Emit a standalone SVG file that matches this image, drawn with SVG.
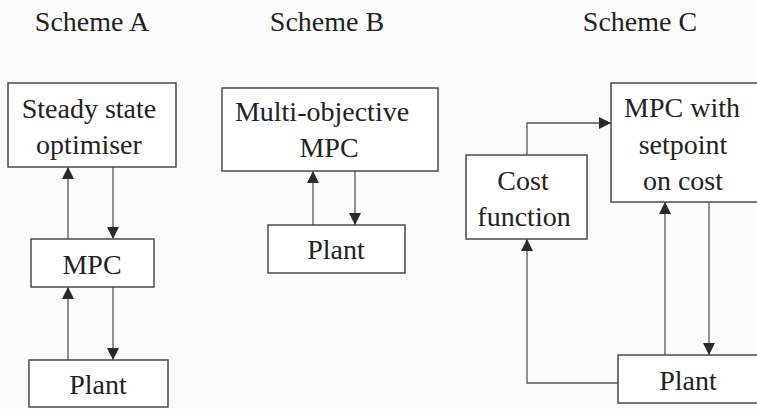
<svg xmlns="http://www.w3.org/2000/svg" width="757" height="409" viewBox="0 0 757 409">
<style>
.bg{fill:#fbfbfb}
.box{fill:#ffffff;stroke:#4a4a4a;stroke-width:1.5}
.t{font-family:"Liberation Serif","Times New Roman",serif;font-size:28px;fill:#222;text-anchor:middle}
.ln{fill:none;stroke:#555;stroke-width:1.3}
</style>
<defs>
<marker id="ah" viewBox="0 0 12 12" refX="12" refY="6" markerWidth="12" markerHeight="12" markerUnits="userSpaceOnUse" orient="auto">
<path d="M0,0 L12,6 L0,12 z" fill="#2a2a2a"/>
</marker>
</defs>
<rect class="bg" x="0" y="0" width="757" height="409"/>
<g id="titles">
<text class="t" x="92" y="31">Scheme A</text>
<text class="t" x="327" y="31">Scheme B</text>
<text class="t" x="640" y="31">Scheme C</text>
</g>
<g id="connectors">
<line class="ln" x1="68" y1="239" x2="68" y2="167" marker-end="url(#ah)"/>
<line class="ln" x1="113" y1="167" x2="113" y2="239" marker-end="url(#ah)"/>
<line class="ln" x1="68" y1="360" x2="68" y2="287" marker-end="url(#ah)"/>
<line class="ln" x1="113" y1="287" x2="113" y2="360" marker-end="url(#ah)"/>
<line class="ln" x1="313" y1="225" x2="313" y2="171" marker-end="url(#ah)"/>
<line class="ln" x1="355" y1="171" x2="355" y2="225" marker-end="url(#ah)"/>
<polyline class="ln" points="527,155 527,123 611,123" marker-end="url(#ah)"/>
<line class="ln" x1="665" y1="355" x2="665" y2="202" marker-end="url(#ah)"/>
<line class="ln" x1="709" y1="202" x2="709" y2="355" marker-end="url(#ah)"/>
<polyline class="ln" points="618,383 527,383 527,239" marker-end="url(#ah)"/>
</g>
<g id="a-optimiser">
<rect class="box" x="8" y="83" width="168" height="84"/>
<text class="t" x="89" y="118">Steady state</text>
<text class="t" x="89" y="154">optimiser</text>
</g>
<g id="a-mpc">
<rect class="box" x="31" y="239" width="123" height="48"/>
<text class="t" x="92" y="274">MPC</text>
</g>
<g id="a-plant">
<rect class="box" x="29" y="360" width="139" height="47"/>
<text class="t" x="98" y="394">Plant</text>
</g>
<g id="b-mpc">
<rect class="box" x="222" y="88" width="216" height="83"/>
<text class="t" x="322" y="121">Multi-objective</text>
<text class="t" x="329" y="157">MPC</text>
</g>
<g id="b-plant">
<rect class="box" x="268" y="225" width="137" height="48"/>
<text class="t" x="336" y="259">Plant</text>
</g>
<g id="c-cost">
<rect class="box" x="466" y="155" width="121" height="84"/>
<text class="t" x="523" y="190">Cost</text>
<text class="t" x="524" y="226">function</text>
</g>
<g id="c-mpc">
<rect class="box" x="611" y="83" width="150" height="119"/>
<text class="t" x="682" y="117">MPC with</text>
<text class="t" x="683" y="154">setpoint</text>
<text class="t" x="683" y="190">on cost</text>
</g>
<g id="c-plant">
<rect class="box" x="618" y="355" width="143" height="48"/>
<text class="t" x="688" y="390">Plant</text>
</g>
</svg>
